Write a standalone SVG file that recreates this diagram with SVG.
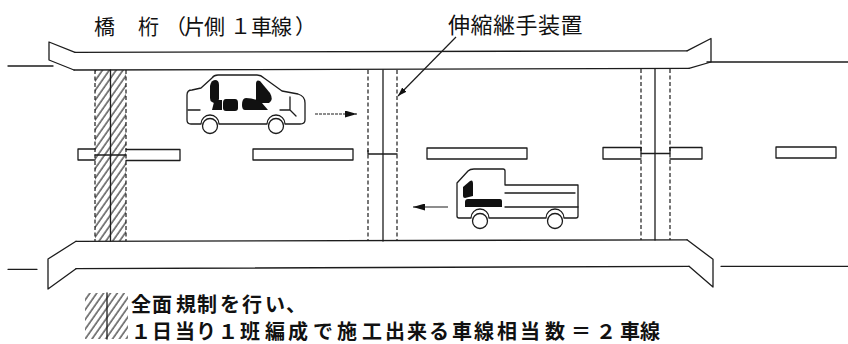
<svg xmlns="http://www.w3.org/2000/svg" width="848" height="344" viewBox="0 0 848 344">
  <defs>
    <style>
      .ln{fill:none;stroke:#1c1c1c;stroke-width:1.3;stroke-linejoin:round;stroke-linecap:round}
      .wf{fill:#fff;stroke:#1c1c1c;stroke-width:1.3;stroke-linejoin:round}
      .ds{fill:none;stroke:#1c1c1c;stroke-width:1.2;stroke-dasharray:4 2.5}
      .blk{fill:#111;stroke:none}
      .t{font-family:"Noto Sans CJK JP","Noto Sans CJK SC",sans-serif;fill:#111}
    </style>
    <pattern id="hatch" width="5.6" height="10" patternUnits="userSpaceOnUse" patternTransform="rotate(35)">
      <line x1="1" y1="0" x2="1" y2="10" stroke="#1c1c1c" stroke-width="1.1"/>
    </pattern>
    <marker id="ah" viewBox="0 0 12 7" refX="12" refY="3.5" markerWidth="12" markerHeight="7" markerUnits="userSpaceOnUse" orient="auto">
      <path d="M0,0 L12,3.5 L0,7 Z" fill="#111"/>
    </marker>
    <marker id="ahs" viewBox="0 0 9 6" refX="9" refY="3" markerWidth="9" markerHeight="6" markerUnits="userSpaceOnUse" orient="auto">
      <path d="M0,0 L9,3 L0,6 Z" fill="#111"/>
    </marker>
  </defs>

  <rect width="848" height="344" fill="#fff"/>

  <!-- upper girder deck with its approach road -->
  <g id="deck-top">
    <path class="ln" d="M75,52.3 L687,50.8 M74,70 L689,68.4"/>
    <path class="ln" d="M75,52.3 L49,42 L49,60 L74,70"/>
    <path class="ln" d="M687,50.8 L711,38.5 L711,62 L689,68.4"/>
    <line class="ln" x1="8" y1="66" x2="53" y2="66"/>
    <line class="ln" x1="707" y1="62" x2="848" y2="62"/>
  </g>

  <!-- lower girder deck with its approach road -->
  <g id="deck-bottom">
    <path class="ln" d="M76,241.3 L687,239.8 M76,268.7 L689,266.3"/>
    <path class="ln" d="M76,241.3 L48,259 L48,289 L76,268.7"/>
    <path class="ln" d="M687,239.8 L713,259.3 L713,287 L689,266.3"/>
    <line class="ln" x1="8" y1="269.3" x2="37" y2="269.3"/>
    <line class="ln" x1="721" y1="266.3" x2="848" y2="266.3"/>
  </g>

  <!-- lane markings -->
  <g id="lane-markings">
    <path class="ln" d="M95,149 L78,149 L78,160 L95,160"/>
    <path class="ln" d="M126,149.5 L180,149.5 L180,160.5 L126,160.5"/>
    <rect class="ln" x="253" y="149" width="100" height="11"/>
    <rect class="ln" x="427" y="148" width="100" height="11"/>
    <path class="ln" d="M641,147.5 L603,147.5 L603,159 L641,159"/>
    <path class="ln" d="M670,147.5 L702,147.5 L702,159 L670,159"/>
    <rect class="ln" x="776" y="147" width="60" height="11"/>
  </g>

  <!-- section closed to traffic (hatched) -->
  <g id="closed-section">
    <rect x="95" y="70" width="31" height="171" fill="url(#hatch)"/>
    <line class="ds" x1="95" y1="70" x2="95" y2="241"/>
    <line class="ds" x1="126" y1="70" x2="126" y2="241"/>
    <line class="ln" x1="110.5" y1="70" x2="110.5" y2="241"/>
    <line class="ln" x1="95" y1="155" x2="126" y2="155"/>
  </g>

  <!-- expansion joint 1 -->
  <g id="joint-1">
    <line class="ds" x1="368" y1="70" x2="368" y2="241"/>
    <line class="ln" x1="383" y1="70" x2="383" y2="241"/>
    <line class="ds" x1="397" y1="70" x2="397" y2="241"/>
    <path class="ln" d="M368,150.5 L368,154 L397,154"/>
  </g>

  <!-- expansion joint 2 -->
  <g id="joint-2">
    <line class="ds" x1="641" y1="69" x2="641" y2="240"/>
    <line class="ln" x1="655" y1="69" x2="655" y2="240"/>
    <line class="ds" x1="670" y1="69" x2="670" y2="240"/>
    <path class="ln" d="M641,147.5 L641,153.5 L670,153.5 L670,147.5"/>
  </g>

  <!-- passenger car -->
  <g id="car">
    <circle class="wf" cx="210" cy="126" r="7.5"/>
    <circle class="wf" cx="276" cy="126" r="7.5"/>
    <path class="wf" d="M187,95 Q187,90 192,90 L201,88 L212,78 Q214,75 218,75 L257,75 Q261,75 264,78 L282,91 L298,94 Q305,96 305,103 L305,120 Q305,124 300,124 L285,124 A9,9 0 0 0 267,124 L219,124 A9,9 0 0 0 201,124 L191,124 Q187,124 187,120 Z"/>
    <path class="blk" d="M210,86 Q211,80 215,80 Q219,80 219,85 L219,99 Q218,103 214,103 L212,102 Q210,101 210,98 Z"/>
    <path class="blk" d="M256,84 Q256,79 260,81 L270,93 Q274,100 269,103 L259,103 Q256,103 256,100 Z"/>
    <path class="blk" d="M214,102 Q215,100 218,100 L222,100 L222,110 L212,110 Z"/>
    <path class="blk" d="M226,99 L235,99 Q238,99 238,103 L238,108 Q238,111 235,111 L226,111 Q223,111 223,108 L223,103 Q223,99 226,99 Z"/>
    <path class="blk" d="M246,98 Q255,98 262,103 L268,110 L245,110 Q242,110 242,105 Q242,98 246,98 Z"/>
    <path class="ln" d="M188,110 L200,110 M290,97 L290,110 L280,110 M290,110 L296,116"/>
  </g>

  <!-- truck -->
  <g id="truck">
    <circle class="wf" cx="480" cy="221" r="7.5"/>
    <circle class="wf" cx="555" cy="221" r="7.5"/>
    <path class="wf" d="M457,183 L468,171 Q470,169 474,169 L503,169 Q505,169 505,171 L505,185 L578,185 L578,216 Q578,218 576,218 L564,218 A9,9 0 0 0 546,218 L489,218 A9,9 0 0 0 471,218 L459,218 Q457,218 457,216 Z"/>
    <path class="ln" d="M505,193 L575,193 M505,207 L578,207"/>
    <path class="blk" d="M463,187 L470,181 Q473,179 473,184 L473,196 L465,198 Q463,198 463,196 Z"/>
    <path class="blk" d="M468,199 L500,199 Q502,199 502,201 L502,207 L465,207 L465,202 Q465,199 468,199 Z"/>
  </g>

  <!-- direction arrows and callout leader -->
  <g id="connectors">
    <line x1="315" y1="114" x2="357" y2="114" stroke="#1c1c1c" stroke-width="1.2" stroke-dasharray="3 1" marker-end="url(#ah)"/>
    <line x1="448" y1="207" x2="413" y2="207" stroke="#1c1c1c" stroke-width="1.2" marker-end="url(#ah)"/>
    <line x1="456" y1="37" x2="398" y2="96" stroke="#1c1c1c" stroke-width="1.2" marker-end="url(#ahs)"/>
  </g>

  <!-- labels -->
  <g id="labels">
    <text class="t" font-size="21" y="33.5" x="94 116 138 165 184 204 230 251 271 295">橋　桁（片側１車線）</text>
    <text class="t" font-size="22" y="33" x="448 470.5 493 515.5 538 560.5">伸縮継手装置</text>
  </g>

  <!-- legend -->
  <g id="legend">
    <rect x="85" y="293" width="43" height="46" fill="url(#hatch)"/>
    <line class="ln" x1="107" y1="293" x2="107" y2="339"/>
    <text class="t" font-size="20" font-weight="bold" y="312" x="131 152 176 197 220 242 265 286">全面規制を行い、</text>
    <text class="t" font-size="20" font-weight="bold" y="339" x="131 152 175 196 218 240 265 288 313 337 362 385 407 429 452 474 497 520 545 571 596 620 640">１日当り１班編成で施工出来る車線相当数＝２車線</text>
  </g>
</svg>
